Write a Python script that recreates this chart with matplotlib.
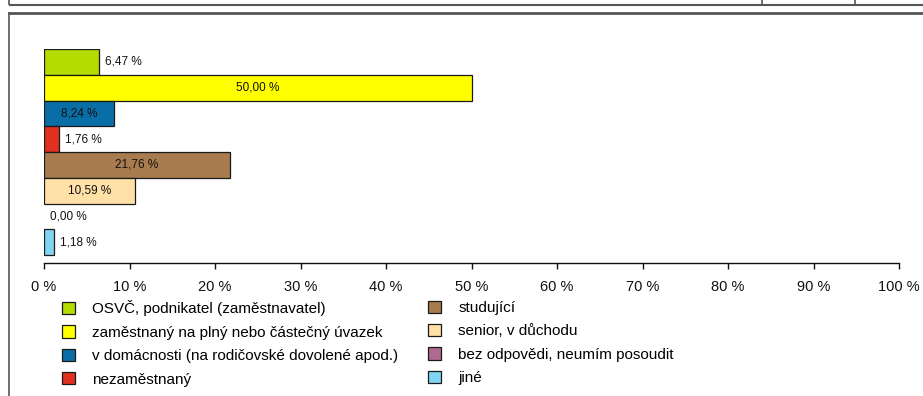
import matplotlib
matplotlib.use("Agg")
import matplotlib.pyplot as plt
from matplotlib.lines import Line2D
from matplotlib.patches import Patch

plt.rcParams['font.family'] = ['Liberation Sans', 'DejaVu Sans']

# data
categories = [
    'OSVČ, podnikatel (zaměstnavatel)',
    'zaměstnaný na plný nebo částečný úvazek',
    'v domácnosti (na rodičovské dovolené apod.)',
    'nezaměstnaný',
    'studující',
    'senior, v důchodu',
    'bez odpovědi, neumím posoudit',
    'jiné',
]
values = [6.47, 50.00, 8.24, 1.76, 21.76, 10.59, 0.00, 1.18]
colors = ['#b4dc00', '#ffff00', '#0a6ea6', '#e03020',
          '#a87c4e', '#ffe0a6', '#b06a92', '#80d6f2']
xticks = [0, 10, 20, 30, 40, 50, 60, 70, 80, 90, 100]

W, H = 923, 396
fig = plt.figure(figsize=(W / 100, H / 100), dpi=100)

# axes placed in pixel terms
left, right, top, bottom = 44, 899, 49, 263
ax = fig.add_axes([left / W, 1 - bottom / H, (right - left) / W, (bottom - top) / H])

ypos = list(range(len(values)))
lws = [0 if v == 0 else 0.9 for v in values]
ax.barh(ypos, values, height=1.0, color=colors, edgecolor='#1a1a1a', linewidth=lws)

for y, v in zip(ypos, values):
    txt = f'{v:.2f} %'.replace('.', ',')
    if v >= 8:
        ax.text(v / 2, y, txt, ha='center', va='center', fontsize=8.5, color='#111111')
    else:
        ax.annotate(txt, (v, y), xytext=(4, 0), textcoords='offset points',
                    ha='left', va='center', fontsize=8.5, color='#111111')

ax.set_xlim(0, 100)
ax.set_ylim(len(values) - 0.5 + 0.31, -0.5)
ax.set_yticks([])
ax.set_xticks(xticks)
ax.set_xticklabels([f'{t} %' for t in xticks], fontsize=10.5, color='#111111')
ax.tick_params(axis='x', direction='out', length=4, width=1, pad=8, color='#111111')
for s in ['top', 'right', 'left']:
    ax.spines[s].set_visible(False)
ax.spines['bottom'].set_linewidth(1)
ax.spines['bottom'].set_color('#111111')

# legend in two columns
handles = [Patch(facecolor=c, edgecolor='#1a1a1a', linewidth=0.9) for c in colors]
leg_kw = dict(frameon=False, fontsize=11, handlelength=0.87, handleheight=0.87,
              handletextpad=1.1, labelspacing=0.58, borderpad=0, borderaxespad=0,
              loc='upper left')
leg1 = fig.legend(handles[:4], categories[:4], bbox_to_anchor=(62 / W, 1 - 300.5 / H), **leg_kw)
leg2 = fig.legend(handles[4:], categories[4:], bbox_to_anchor=(428 / W, 1 - 300.5 / H), **leg_kw)

# surrounding frame lines
frame_col = '#555555'
def fline(x0, y0, x1, y1, lw=1.5):
    fig.add_artist(Line2D([x0 / W, x1 / W], [1 - y0 / H, 1 - y1 / H],
                          color=frame_col, linewidth=lw, solid_capstyle='butt'))

fline(9, 4.5, W, 4.5)
fline(9, 0, 9, 4.5, 1.2)
fline(762, 0, 762, 4.5, 1.2)
fline(855, 0, 855, 4.5, 1.2)
fline(8, 12.5, W, 12.5, 2)
fline(9, 12, 9, H, 1.2)

fig.savefig('out.png', dpi=100)
